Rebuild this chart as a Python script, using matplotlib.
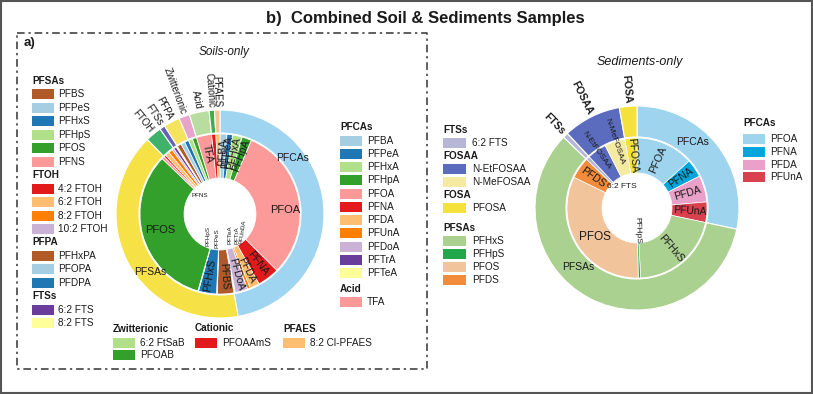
import numpy as np
import matplotlib
matplotlib.use("Agg")
import matplotlib.pyplot as plt
from matplotlib.patches import Rectangle

W, H = 813, 394
plt.rcParams['font.family'] = ['Liberation Sans', 'DejaVu Sans']
TXT = '#1a1a1a'

# ---------------- Soils-only data (relative shares) ----------------
soil_groups = ["PFCAs", "PFSAs", "FTOH", "FTSs", "PFPA", "Zwitterionic", "Acid", "Cationic", "PFAES"]
soil_group_colors = ["#9fd5f1", "#f6e146", "#3fb26a", "#6462b8", "#f5e35e", "#e7a5cc", "#b9dca0", "#3aaf4a", "#f8c38e"]

soil_PFCAs = ["PFBA", "PFPeA", "PFHxA", "PFHpA", "PFOA", "PFNA", "PFDA", "PFUnA", "PFDoA", "PFTrA", "PFTeA"]
soil_PFCAs_val = [5, 4, 7, 7, 111, 16, 7, 2, 9, 0.5, 0.5]
soil_PFSAs = ["PFBS", "PFPeS", "PFHxS", "PFHpS", "PFOS", "PFNS"]
soil_PFSAs_val = [12, 0.5, 13, 0.5, 117, 2]
soil_FTOH = ["4:2 FTOH", "6:2 FTOH", "8:2 FTOH", "10:2 FTOH"]
soil_FTOH_val = [1.5, 3, 3, 1.5]
soil_FTSs = ["6:2 FTS", "8:2 FTS"]
soil_FTSs_val = [2, 1]
soil_PFPA = ["PFHxPA", "PFOPA", "PFDPA"]
soil_PFPA_val = [3, 3, 3]
soil_Zwit = ["6:2 FtSaB", "PFOAB"]
soil_Zwit_val = [3, 3]
soil_Acid = ["TFA"]
soil_Acid_val = [11]
soil_Cat = ["PFOAAmS"]
soil_Cat_val = [3]
soil_PFAES = ["8:2 Cl-PFAES"]
soil_PFAES_val = [3]

soil_members = [soil_PFCAs, soil_PFSAs, soil_FTOH, soil_FTSs, soil_PFPA, soil_Zwit, soil_Acid, soil_Cat, soil_PFAES]
soil_member_vals = [soil_PFCAs_val, soil_PFSAs_val, soil_FTOH_val, soil_FTSs_val, soil_PFPA_val,
                    soil_Zwit_val, soil_Acid_val, soil_Cat_val, soil_PFAES_val]

# ---------------- Sediments-only data ----------------
sed_groups = ["PFCAs", "PFSAs", "FTSs", "FOSAA", "FOSA"]
sed_group_colors = ["#9fd4ef", "#abd190", "#b5b6d8", "#5b6cbf", "#f5e13c"]
sed_PFCAs = ["PFOA", "PFNA", "PFDA", "PFUnA"]
sed_PFCAs_val = [48, 15, 22, 17]
sed_PFSAs = ["PFHxS", "PFHpS", "PFOS", "PFDS"]
sed_PFSAs_val = [75, 2, 117, 18]
sed_FTSs = ["6:2 FTS"]
sed_FTSs_val = [3]
sed_FOSAA = ["N-EtFOSAA", "N-MeFOSAA"]
sed_FOSAA_val = [16, 17]
sed_FOSA = ["PFOSA"]
sed_FOSA_val = [10]
sed_members = [sed_PFCAs, sed_PFSAs, sed_FTSs, sed_FOSAA, sed_FOSA]
sed_member_vals = [sed_PFCAs_val, sed_PFSAs_val, sed_FTSs_val, sed_FOSAA_val, sed_FOSA_val]
sed_colors = {"PFOA": "#9fd4ef", "PFNA": "#05a6db", "PFDA": "#e9a0c9", "PFUnA": "#d9414f",
              "PFHxS": "#abd190", "PFHpS": "#22a84a", "PFOS": "#f1c49c", "PFDS": "#f28b3a",
              "6:2 FTS": "#b5b6d8", "N-EtFOSAA": "#5b6cbf", "N-MeFOSAA": "#f4eaa2", "PFOSA": "#f5e13c"}

paired = list(plt.get_cmap('Paired').colors)

fig = plt.figure(figsize=(W / 100, H / 100), dpi=100)
ax = fig.add_axes([0, 0, 1, 1])


def Y(y):
    return H - y


def mids(vals):
    v = np.asarray(vals, float)
    c = np.concatenate([[0], np.cumsum(v)[:-1]])
    return 90 - 360 * (c + v / 2) / v.sum()


def rlabel(cx, cy, r, th, s, size=7, weight='normal', mode='center', color=TXT):
    t = np.deg2rad(th)
    x = cx + r * np.cos(t)
    y = Y(cy) + r * np.sin(t)
    thn = (th + 180) % 360 - 180
    if -90 <= thn <= 90:
        rot = thn
        ha = 'left' if mode == 'out' else 'center'
    else:
        rot = thn - 180 if thn > 0 else thn + 180
        ha = 'right' if mode == 'out' else 'center'
    ax.text(x, y, s, rotation=rot, rotation_mode='anchor', ha=ha, va='center',
            fontsize=size, fontweight=weight, color=color)


def donut(cx, cy, r_out, r_mid, r_hole, groups, gcolors, members, mvals, icolors):
    outer_vals = [sum(v) for v in mvals]
    inner_vals = [x for v in mvals for x in v]
    inner_names = [x for m in members for x in m]
    ax.pie(inner_vals, radius=r_mid, center=(cx, Y(cy)), startangle=90, counterclock=False,
           colors=icolors, wedgeprops=dict(width=r_mid - r_hole, edgecolor='white', linewidth=0.5))
    ax.pie(outer_vals, radius=r_out, center=(cx, Y(cy)), startangle=90, counterclock=False,
           colors=gcolors, wedgeprops=dict(width=r_out - r_mid - 1, edgecolor='white', linewidth=0.8))
    return dict(zip(groups, mids(outer_vals))), dict(zip(inner_names, mids(inner_vals)))


# ---------------- Soils donut ----------------
SCX, SCY = 220, 214
soil_inner_colors = [paired[i % 12] for i in range(sum(len(m) for m in soil_members))]
g_ang, c_ang = donut(SCX, SCY, 104, 80, 36, soil_groups, soil_group_colors,
                     soil_members, soil_member_vals, soil_inner_colors)

for g in ["FTOH", "FTSs", "PFPA", "Zwitterionic", "Acid", "Cationic", "PFAES"]:
    rlabel(SCX, SCY, 107, g_ang[g], g, size=7, mode='out')
ax.text(293, Y(158), "PFCAs", ha='center', va='center', fontsize=7.5, color=TXT)
ax.text(150, Y(272), "PFSAs", ha='center', va='center', fontsize=7.5, color=TXT)
for c in ["PFBA", "PFPeA", "PFHxA", "PFHpA", "PFNA", "PFDA", "PFDoA", "PFBS", "PFHxS", "TFA"]:
    rlabel(SCX, SCY, 62, c_ang[c], c, size=7.5)
ax.text(285, Y(210), "PFOA", ha='center', va='center', fontsize=8, color=TXT)
ax.text(160, Y(230), "PFOS", ha='center', va='center', fontsize=8, color=TXT)
ax.text(200, Y(195), "PFNS", ha='center', va='center', fontsize=4.5, color=TXT)
for s, x, y, rt in [("PFHpS", 208, 236, 90), ("PFPeS", 217, 238, 90), ("PFTeA", 230, 235, 90),
                    ("PFTrA", 237, 235, 90), ("PFUnDA", 243, 232, 82)]:
    ax.text(x, Y(y), s, rotation=rt, ha='center', va='center', fontsize=4.5, color=TXT)

# ---------------- Sediments donut ----------------
DCX, DCY = 637, 208
sed_inner_colors = [sed_colors[n] for m in sed_members for n in m]
g2, c2 = donut(DCX, DCY, 102, 70, 35, sed_groups, sed_group_colors,
               sed_members, sed_member_vals, sed_inner_colors)
for g in ["FTSs", "FOSAA", "FOSA"]:
    rlabel(DCX, DCY, 105, g2[g], g, size=7.5, weight='bold', mode='out')
ax.text(693, Y(142), "PFCAs", ha='center', va='center', fontsize=7.5, color=TXT)
ax.text(578, Y(267), "PFSAs", ha='center', va='center', fontsize=7.5, color=TXT)
for c in ["PFOA", "PFNA", "PFDA", "PFUnA", "PFHxS", "PFDS", "PFOSA"]:
    rlabel(DCX, DCY, 53, c2[c], c, size=7.5)
for c in ["N-EtFOSAA", "N-MeFOSAA"]:
    rlabel(DCX, DCY, 70, c2[c], c, size=6)
rlabel(DCX, DCY, 22, c2["PFHpS"], "PFHpS", size=6)
ax.text(622, Y(186), "6:2 FTS", ha='center', va='center', fontsize=6, color=TXT)
ax.text(595, Y(237), "PFOS", ha='center', va='center', fontsize=8.5, color=TXT)


# ---------------- legends ----------------
def legend_rows(x, x_txt, rows, w=22, h=10, size=7.2):
    for kind, y, text, col in rows:
        if kind == 't':
            ax.text(x, Y(y), text, ha='left', va='center', fontsize=size, fontweight='bold', color=TXT)
        else:
            ax.add_patch(Rectangle((x, Y(y) - h / 2), w, h, facecolor=col, edgecolor='none'))
            ax.text(x_txt, Y(y), text, ha='left', va='center', fontsize=size, color=TXT)


name_color = dict(zip([n for m in soil_members for n in m], soil_inner_colors))
left_groups = [("PFSAs", soil_PFSAs), ("FTOH", soil_FTOH), ("PFPA", soil_PFPA), ("FTSs", soil_FTSs)]
rows, i = [], 0
for title, names in left_groups:
    rows.append(('t', 81 + i * 13.45, title, None)); i += 1
    for n in names:
        rows.append(('i', 81 + i * 13.45, n, name_color[n])); i += 1
legend_rows(32, 58, rows)

rows = [('t', 127, "PFCAs", None)]
for k, n in enumerate(soil_PFCAs):
    rows.append(('i', 140.5 + k * 13.25, n, name_color[n]))
rows += [('t', 289, "Acid", None), ('i', 302, "TFA", name_color["TFA"])]
legend_rows(340, 367, rows)

legend_rows(113, 140, [('t', 329, "Zwitterionic", None),
                       ('i', 343, soil_Zwit[0], name_color[soil_Zwit[0]]),
                       ('i', 355, soil_Zwit[1], name_color[soil_Zwit[1]])])
legend_rows(195, 222, [('t', 328, "Cationic", None), ('i', 343, soil_Cat[0], name_color[soil_Cat[0]])])
legend_rows(283, 310, [('t', 329, "PFAES", None), ('i', 343, soil_PFAES[0], name_color[soil_PFAES[0]])])

rows = [('t', 130, "FTSs", None), ('i', 143, sed_FTSs[0], sed_colors[sed_FTSs[0]]),
        ('t', 156, "FOSAA", None)]
rows += [('i', 169 + 13 * k, n, sed_colors[n]) for k, n in enumerate(sed_FOSAA)]
rows += [('t', 195, "FOSA", None), ('i', 208, sed_FOSA[0], sed_colors[sed_FOSA[0]]),
         ('t', 228, "PFSAs", None)]
rows += [('i', 241 + 13 * k, n, sed_colors[n]) for k, n in enumerate(sed_PFSAs)]
legend_rows(443, 472, rows, w=23)

rows = [('t', 123, "PFCAs", None)]
rows += [('i', 139 + 12.8 * k, n, sed_colors[n]) for k, n in enumerate(sed_PFCAs)]
legend_rows(743, 770, rows, w=22)

# ---------------- frame, titles ----------------
ax.plot([17, 427, 427, 17, 17], [Y(33), Y(33), Y(369), Y(369), Y(33)], color='#333333', lw=1.1,
        linestyle=(0, (5, 2.5, 1.5, 2.5)))
ax.add_patch(Rectangle((1, 1), W - 2, H - 2, facecolor='none', edgecolor='#555555', lw=1.5))
ax.text(425, Y(18), "b)  Combined Soil & Sediments Samples", ha='center', va='center',
        fontsize=12, fontweight='bold', color=TXT)
ax.text(24, Y(43), "a)", ha='left', va='center', fontsize=9.5, fontweight='bold', color=TXT)
ax.text(224, Y(52), "Soils-only", ha='center', va='center', fontsize=8.5, fontstyle='italic', color=TXT)
ax.text(640, Y(62), "Sediments-only", ha='center', va='center', fontsize=9, fontstyle='italic', color=TXT)

ax.set_xlim(0, W)
ax.set_ylim(0, H)
ax.set_aspect('equal')
ax.axis('off')
fig.savefig("out.png", dpi=100)
